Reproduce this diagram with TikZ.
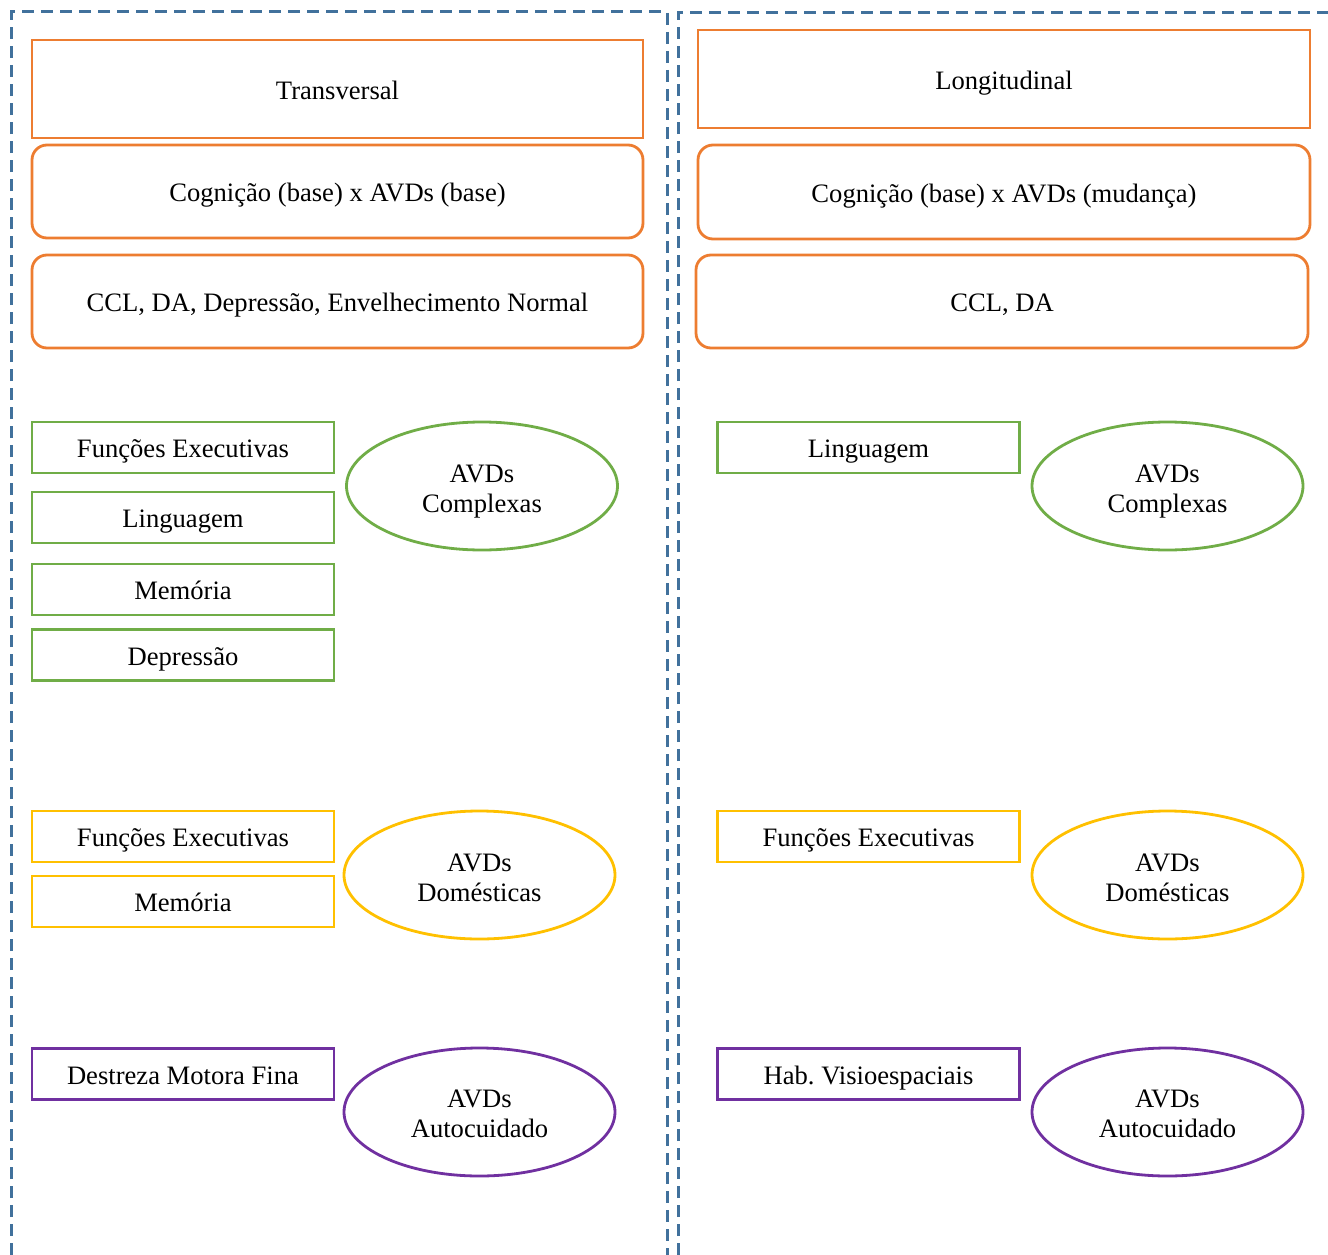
\documentclass[tikz,border=0pt]{standalone}
\usepackage{fontspec}
\setmainfont{Liberation Serif}
\usetikzlibrary{shapes.geometric}
\definecolor{frameblue}{HTML}{41719C}
\definecolor{orangeline}{HTML}{ED7D31}
\definecolor{greenline}{HTML}{70AD47}
\definecolor{yellowline}{HTML}{FFC000}
\definecolor{purpleline}{HTML}{7030A0}
\frenchspacing
\begin{document}
\begin{tikzpicture}[x=1pt,y=-1pt,
  every node/.style={font=\fontsize{26.6pt}{30pt}\selectfont, inner sep=0pt, outer sep=0pt},
  panel/.style={draw=frameblue, line width=3pt, dash pattern=on 12pt off 7pt},
  boxtext/.style={text height=22pt, text depth=1.5pt},
  headbox/.style={boxtext, draw=orangeline, line width=2.8pt, rectangle, minimum height=98pt, minimum width=#1},
  roundbox/.style={boxtext, draw=orangeline, line width=2.8pt, rectangle, rounded corners=15pt, minimum height=93pt, minimum width=#1},
  itembox/.style={boxtext, draw=#1, line width=2.8pt, rectangle, minimum width=302pt, minimum height=51pt},
  avd/.style={draw=#1, line width=2.8pt, ellipse, minimum width=271pt, minimum height=128pt},
  avdtext/.style={align=center}
]
\useasboundingbox (0,0) rectangle (1328,1255);

% dashed panels
\draw[panel] (11,1255) -- (11,12) -- (667,12) -- (667,1255);
\draw[panel] (678,1255) -- (678,13) -- (1328,13);

% left column: cross-sectional
\node[headbox=611pt] (trans) at (337.5,89) {Transversal};
\node[roundbox=611pt] (cogL) at (337.5,191.5) {Cognição (base) x AVDs (base)};
\node[roundbox=611pt] (cclL) at (337.5,301.5) {CCL, DA, Depressão, Envelhecimento Normal};

\node[itembox=greenline] (feL) at (183,447.5) {Funções Executivas};
\node[itembox=greenline] (lingL) at (183,517.5) {Linguagem};
\node[itembox=greenline] (memL) at (183,589.5) {Memória};
\node[itembox=greenline] (depL) at (183,655) {Depressão};
\node[avd=greenline] (compL) at (482,486) {};
\node[avdtext] (compLt) at ([yshift=-6pt]compL.center) {AVDs\\Complexas};

\node[itembox=yellowline] (fe2L) at (183,836.5) {Funções Executivas};
\node[itembox=yellowline] (mem2L) at (183,901.5) {Memória};
\node[avd=yellowline] (domL) at (479.5,875) {};
\node[avdtext] (domLt) at ([yshift=-3pt]domL.center) {AVDs\\Domésticas};

\node[itembox=purpleline] (dmfL) at (183,1074) {Destreza Motora Fina};
\node[avd=purpleline] (autoL) at (479.5,1112) {};
\node[avdtext] (autoLt) at ([yshift=-2pt]autoL.center) {AVDs\\Autocuidado};

% right column: longitudinal
\node[headbox=612pt] (longi) at (1004,79) {Longitudinal};
\node[roundbox=612pt, minimum height=94pt] (cogR) at (1004,192) {Cognição (base) x AVDs (mudança)};
\node[roundbox=612pt] (cclR) at (1002,301.5) {CCL, DA};

\node[itembox=greenline] (lingR) at (868.5,447.5) {Linguagem};
\node[avd=greenline] (compR) at (1167.5,486) {};
\node[avdtext] (compRt) at ([yshift=-6pt]compR.center) {AVDs\\Complexas};

\node[itembox=yellowline] (feR) at (868.5,836.5) {Funções Executivas};
\node[avd=yellowline] (domR) at (1167.5,875) {};
\node[avdtext] (domRt) at ([yshift=-3pt]domR.center) {AVDs\\Domésticas};

\node[itembox=purpleline] (hvR) at (868.5,1074) {Hab. Visioespaciais};
\node[avd=purpleline] (autoR) at (1167.5,1112) {};
\node[avdtext] (autoRt) at ([yshift=-2pt]autoR.center) {AVDs\\Autocuidado};
\end{tikzpicture}
\end{document}
